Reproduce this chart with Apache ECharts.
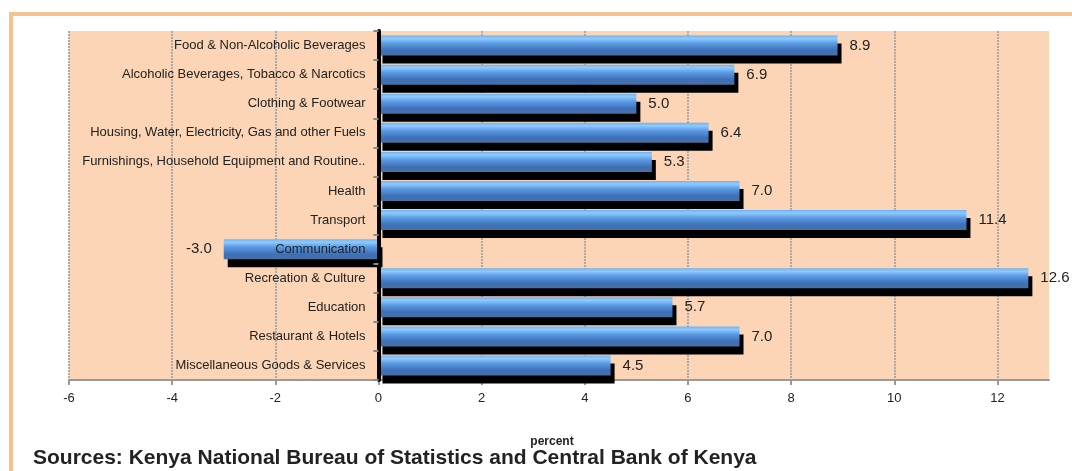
<!DOCTYPE html>
<html>
<head>
<meta charset="utf-8">
<title>CPI change by category</title>
<script src="https://cdn.jsdelivr.net/npm/echarts@6/dist/echarts.min.js"></script>
<style>
  html, body { margin: 0; padding: 0; background: #fff; }
  #chart { width: 1072px; height: 471px; }
</style>
</head>
<body>
<div id="chart"></div>
<script>
// categories, top to bottom
const categories = [
  "Food & Non-Alcoholic Beverages",
  "Alcoholic Beverages, Tobacco & Narcotics",
  "Clothing & Footwear",
  "Housing, Water, Electricity, Gas and other Fuels",
  "Furnishings, Household Equipment and Routine..",
  "Health",
  "Transport",
  "Communication",
  "Recreation & Culture",
  "Education",
  "Restaurant & Hotels",
  "Miscellaneous Goods & Services"
];
// percent change
const values = [8.9, 6.9, 5.0, 6.4, 5.3, 7.0, 11.4, -3.0, 12.6, 5.7, 7.0, 4.5];

const axisMin = -6;
const axisMax = 13;
const axisStep = 2;

const sourceText = "Sources: Kenya National Bureau of Statistics and Central Bank of Kenya";

const FONT = "Liberation Sans, Arial, sans-serif";

// plot box
const gridLeft = 69, gridRight = 23, gridTop = 31, gridBottom = 91;
const plotWidth = 1072 - gridLeft - gridRight;
// move the category axis (line + labels) over to x = 0
const zeroOffset = -plotWidth * (0 - axisMin) / (axisMax - axisMin);

const barColor = new echarts.graphic.LinearGradient(0, 0, 0, 1, [
  { offset: 0, color: "#6fb2f2" },
  { offset: 0.15, color: "#8fcaff" },
  { offset: 0.4, color: "#5a9ae2" },
  { offset: 0.75, color: "#3d70b8" },
  { offset: 1, color: "#4b70a2" }
]);

const chart = echarts.init(document.getElementById("chart"));

const option = {
  backgroundColor: "#fff",
  animation: false,
  title: {
    text: sourceText,
    left: 28,
    top: 443,
    textStyle: { fontFamily: FONT, fontSize: 21, fontWeight: "bold", color: "#222" }
  },
  graphic: [
    // orange frame (top & left)
    { type: "rect", shape: { x: 9, y: 12, width: 1063, height: 4 }, style: { fill: "#f9c08f" } },
    { type: "rect", shape: { x: 9, y: 12, width: 4, height: 459 }, style: { fill: "#f9c08f" } }
  ],
  grid: {
    left: gridLeft,
    right: gridRight,
    top: gridTop,
    bottom: gridBottom,
    containLabel: false,
    outerBoundsMode: "none",
    show: true,
    backgroundColor: "#fbd5b5",
    borderWidth: 0
  },
  xAxis: {
    type: "value",
    min: axisMin,
    max: axisMax,
    interval: axisStep,
    name: "percent",
    nameLocation: "middle",
    nameGap: 56,
    nameTextStyle: { fontFamily: FONT, fontSize: 12, fontWeight: "bold", color: "#222", padding: [0, 14, 0, 0] },
    axisLine: { show: true, onZero: false, lineStyle: { color: "#999", width: 2 } },
    axisTick: { show: true, length: 5, lineStyle: { color: "#999", width: 2 } },
    axisLabel: { fontFamily: FONT, fontSize: 13, color: "#222", margin: 12, showMaxLabel: false },
    splitLine: { show: true, showMaxLine: false, lineStyle: { color: "#aaa", width: 2, type: [2, 1] } }
  },
  yAxis: {
    type: "category",
    inverse: true,
    data: categories,
    z: 10,
    offset: zeroOffset,
    axisLine: { show: true, onZero: false, lineStyle: { color: "#000", width: 4 } },
    axisTick: { show: true, length: 5, lineStyle: { color: "#888", width: 2 } },
    axisLabel: { fontFamily: FONT, fontSize: 13, color: "#222", margin: 13 },
    splitLine: { show: false }
  },
  series: [{
    type: "bar",
    data: values.map(v => ({
      value: v,
      label: { position: v < 0 ? "left" : "right" }
    })),
    barWidth: 20,
    itemStyle: {
      color: barColor,
      shadowColor: "#000",
      shadowBlur: 0,
      shadowOffsetX: 4,
      shadowOffsetY: 8
    },
    label: {
      show: true,
      distance: 12,
      fontFamily: FONT,
      fontSize: 15,
      color: "#222",
      formatter: p => p.value.toFixed(1)
    }
  }]
};

chart.setOption(option);
</script>
</body>
</html>
